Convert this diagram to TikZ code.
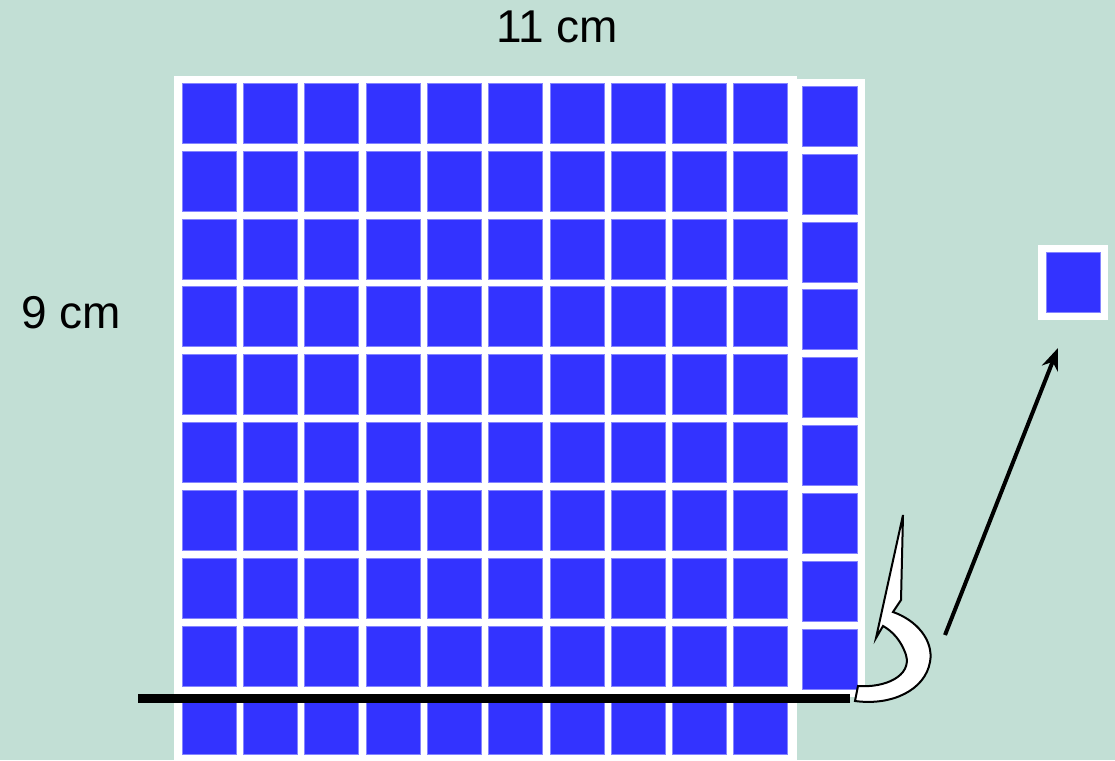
\documentclass[tikz,border=0pt]{standalone}
\usepackage{fontspec}
\setmainfont{Liberation Sans}
\usepackage{xcolor}
\usepackage{tikz}
\usetikzlibrary{arrows.meta}
\definecolor{GRbg}{HTML}{C2DFD5}
\definecolor{GRblue}{HTML}{3333FF}

\begin{document}
\begin{tikzpicture}[
      x=1pt, y=-1pt,
      tile/.style={fill=GRblue, draw=GRblue!60!white, line width=0.6pt},
      backing/.style={fill=white},
      dimlbl/.style={font=\fontsize{46}{50}\selectfont, inner sep=0pt},
      cutline/.style={line width=9pt, line cap=butt},
      movearr/.style={line width=4pt, -{Stealth[length=22pt, width=17pt]}}
    ]
    % Background
    \fill[GRbg] (0,0) rectangle (1115,760);
    \useasboundingbox (0,0) rectangle (1115,760);

    % Main 10 x 10 grid
    \fill[backing] (174,76) rectangle (797,760);
    \foreach \i in {0,...,9}{
      \foreach \j in {0,...,9}{
        \filldraw[tile] ({182+61.3*\i},{83+67.9*\j}) rectangle ++(54,60);
      }
    }

    % Extra column of 9
    \fill[backing] (797,79) rectangle (865,697);
    \foreach \j in {0,...,8}{
      \filldraw[tile] (802,{86+67.9*\j}) rectangle ++(55,60);
    }

    % Single moved tile
    \node[backing, minimum width=70pt, minimum height=75pt, inner sep=0pt] (single) at (1073,282.5) {};
    \filldraw[tile] (1046,252) rectangle (1100,312);

    % Labels
    \node[dimlbl] (wlbl) at (557,27) {11 cm};
    \node[dimlbl] (hlbl) at (71,313) {9 cm};

    % Cut line
    \coordinate (cutL) at (138,698);
    \coordinate (cutR) at (850,698);
    \draw[cutline] (cutL) -- (cutR);

    % Hook arrow
    \draw[fill=white, line width=2pt, line join=miter]
      (855,701) -- (858,686)
      .. controls (885,688) and (912,676) .. (906,655)
      .. controls (901,640) and (892,631) .. (883,626)
      -- (876,638) -- (903,515) -- (901,600) -- (893,612)
      .. controls (916,620) and (934,640) .. (930,662)
      .. controls (925,690) and (892,706) .. (855,701) -- cycle;

    % Arrow to single tile
    \coordinate (movefrom) at (945,635);
    \coordinate (moveto) at (1058,348);
    \draw[movearr] (movefrom) -- (moveto);
  \end{tikzpicture}
\end{document}
